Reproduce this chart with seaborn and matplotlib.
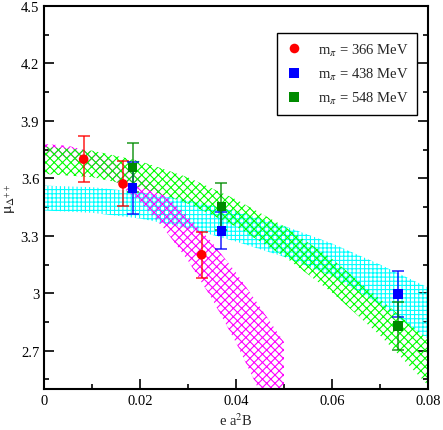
import numpy as np
import pandas as pd
import matplotlib
matplotlib.use("Agg")
import matplotlib.pyplot as plt
import seaborn as sns
from matplotlib.ticker import FixedLocator, FuncFormatter

# ---- data ----
labels = ["m$_\\pi$ = 366 MeV", "m$_\\pi$ = 438 MeV", "m$_\\pi$ = 548 MeV"]

x366 = [0.00826, 0.01646, 0.03285]
y366 = [3.700, 3.571, 3.201]
e366 = [0.119, 0.117, 0.121]

x438 = [0.01847, 0.03694, 0.07375]
y438 = [3.550, 3.326, 2.996]
e438 = [0.135, 0.097, 0.119]

x548 = [0.01847, 0.03694, 0.07375]
y548 = [3.656, 3.453, 2.829]
e548 = [0.128, 0.122, 0.127]

# fit bands (edges read at sample points)
band366_x = [0.0, 0.005, 0.01, 0.015, 0.02, 0.025, 0.03, 0.035, 0.04, 0.045, 0.05]
band366_hi = [3.78, 3.77, 3.738, 3.686, 3.612, 3.518, 3.402, 3.266, 3.108, 2.929, 2.745]
band366_lo = [3.72, 3.705, 3.659, 3.583, 3.476, 3.338, 3.170, 2.971, 2.742, 2.483, 2.193]

band438_x = [0.0, 0.01, 0.02, 0.03, 0.04, 0.05, 0.06, 0.07, 0.08]
band438_hi = [3.562, 3.554, 3.528, 3.486, 3.428, 3.352, 3.26, 3.15, 3.03]
band438_lo = [3.432, 3.42, 3.39, 3.34, 3.27, 3.19, 3.09, 2.94, 2.76]

band548_x = [0.0, 0.01, 0.02, 0.03, 0.04, 0.05, 0.06, 0.07, 0.08]
band548_hi = [3.765, 3.745, 3.690, 3.605, 3.49, 3.35, 3.18, 2.97, 2.76]
band548_lo = [3.623, 3.606, 3.554, 3.468, 3.348, 3.193, 3.004, 2.78, 2.52]

xticks = [0, 0.02, 0.04, 0.06, 0.08]
xminor = [0.01, 0.03, 0.05, 0.07]
yticks = [2.7, 3.0, 3.3, 3.6, 3.9, 4.2, 4.5]
yminor = [2.55, 2.85, 3.15, 3.45, 3.75, 4.05, 4.35]

red = "#ff0000"
blue = "#0000ff"
green = "#008b00"

# ---- style ----
sns.set_style("ticks")
plt.rcParams["font.family"] = ["Liberation Serif", "DejaVu Serif"]
plt.rcParams["mathtext.fontset"] = "stix"
plt.rcParams["hatch.linewidth"] = 0.8

fig = plt.figure(figsize=(4.43, 4.31), dpi=100)
ax = fig.add_axes([44 / 443, 41 / 431, 384 / 443, 383 / 431])

# bands
ax.fill_between(band438_x, band438_lo, band438_hi, facecolor="none",
                edgecolor="#00ffff", hatch="++++", linewidth=0, zorder=1)
ax.fill_between(band366_x, band366_lo, band366_hi, facecolor="none",
                edgecolor="#ff00ff", hatch="xxxx", linewidth=0, zorder=1.1)
ax.fill_between(band548_x, band548_lo, band548_hi, facecolor="none",
                edgecolor="#00ff00", hatch="xxxx", linewidth=0, zorder=1.2)

# error bars
for xs, ys, es, c in [(x366, y366, e366, red), (x438, y438, e438, blue),
                      (x548, y548, e548, green)]:
    ax.errorbar(xs, ys, yerr=es, fmt="none", ecolor=c, elinewidth=1.3,
                capsize=4.5, capthick=1.3, zorder=3, alpha=0.75)

df = pd.DataFrame({
    "x": x366 + x438 + x548,
    "y": y366 + y438 + y548,
    "mass": [labels[0]] * 3 + [labels[1]] * 3 + [labels[2]] * 3,
})
sns.scatterplot(data=df, x="x", y="y", hue="mass", style="mass",
                palette=[red, blue, green],
                markers={labels[0]: "o", labels[1]: "s", labels[2]: "s"},
                s=48, linewidth=0, ax=ax, zorder=4)

ax.set_xlim(0, 0.08)
ax.set_ylim(2.5, 4.5)
ax.xaxis.set_major_locator(FixedLocator(xticks))
ax.xaxis.set_minor_locator(FixedLocator(xminor))
ax.yaxis.set_major_locator(FixedLocator(yticks))
ax.yaxis.set_minor_locator(FixedLocator(yminor))
fmt = FuncFormatter(lambda v, p: "%g" % round(v, 4))
ax.xaxis.set_major_formatter(fmt)
ax.yaxis.set_major_formatter(fmt)

ax.tick_params(which="both", direction="in", top=False, right=True,
               labelsize=10.5, width=1.2, colors="black")
ax.tick_params(which="major", length=7)
ax.tick_params(which="minor", length=3.6)
for sp in ax.spines.values():
    sp.set_linewidth(1.5)
    sp.set_color("black")
    sp.set_visible(True)

ax.set_xlabel("e a$^2$B", fontsize=10.5, labelpad=3)
ax.set_ylabel("$\\mathrm{\\mu}_{\\Delta^{++}}$", fontsize=11.5, labelpad=2)

leg = ax.legend(loc="upper right", bbox_to_anchor=(0.971, 0.93),
                borderaxespad=0, fontsize=10.5, frameon=True, fancybox=False,
                framealpha=1, edgecolor="black", labelspacing=0.55,
                handletextpad=1.0, borderpad=0.6, handlelength=1.2,
                title=None)
leg.get_frame().set_linewidth(1.0)

fig.savefig("out.png", dpi=100)
